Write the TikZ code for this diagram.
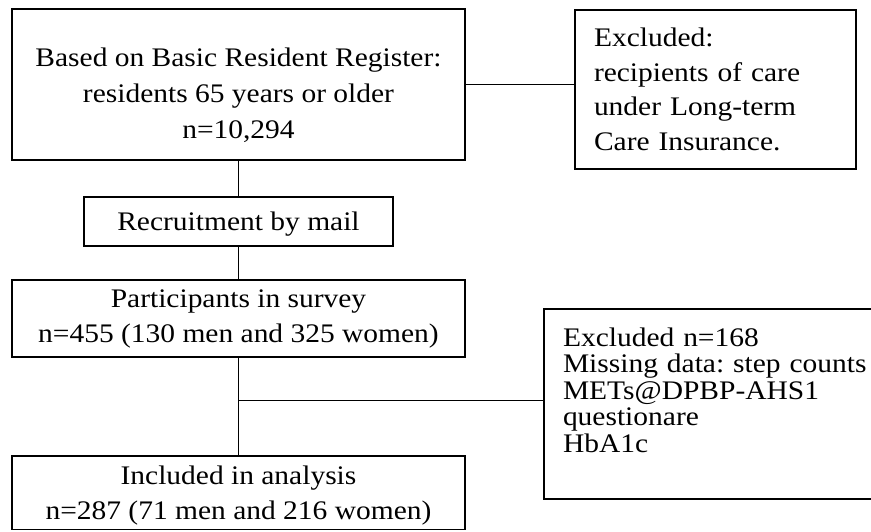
\documentclass[tikz,border=0pt]{standalone}
\usepackage{fontspec}
\setmainfont[FakeStretch=1.1]{Liberation Serif}
\usepackage{tikz}
\usetikzlibrary{positioning}
\lineskiplimit=-20pt
\frenchspacing

\begin{document}
\begin{tikzpicture}[x=1pt,y=-1pt,
    every node/.style={font=\fontsize{26.8}{35}\selectfont},
    box/.style={draw,line width=1.8pt,inner sep=0pt,align=center},
    sidebox/.style={box,inner xsep=19pt,align=left},
    link/.style={line width=0.9pt}]
        \useasboundingbox (0,0) rectangle (871,531);
        % main column
        \node[box,minimum width=453pt,minimum height=151pt] (register) at (238.5,84.5)
          {\rule{0pt}{40pt}Based on Basic Resident Register:\\[1pt]residents 65 years or older\\[1pt]n=10,294};
        \node[box,minimum width=309pt,minimum height=49pt] (mail) at (238.5,221.5) {\rule{0pt}{22.8pt}Recruitment by mail};
        \node[box,minimum width=453pt,minimum height=77pt] (survey) at (238.5,318.5)
          {Participants in survey\\n=455 (130 men and 325 women)};
        \node[box,minimum width=453pt,minimum height=73.5pt] (analysis) at (238.5,492.75)
          {\rule{0pt}{24pt}Included in analysis\\n=287 (71 men and 216 women)};
        % exclusions
        \node[sidebox,text width=243pt,minimum height=159pt,font=\fontsize{26.8}{34.7}\selectfont] (excare) at (715.5,89.5)
          {Excluded:\\recipients of care\\under Long-term\\Care Insurance.};
        \node[sidebox,text width=318pt,minimum height=190pt,font=\fontsize{26.8}{26.5}\selectfont] (exmiss) at (722,404)
          {Excluded n=168\\Missing data: step counts\\METs@DPBP-AHS1\\questionare\\HbA1c\rule[-28pt]{0pt}{28pt}};
        \coordinate (split) at (238.5,400);
        \draw[link] (register.east) -- (register.east -| excare.west);
        \draw[link] (register.south) -- (mail.north);
        \draw[link] (mail.south) -- (survey.north);
        \draw[link] (survey.south) -- (analysis.north);
        \draw[link] (split) -- (split -| exmiss.west);
      \end{tikzpicture}
\end{document}
